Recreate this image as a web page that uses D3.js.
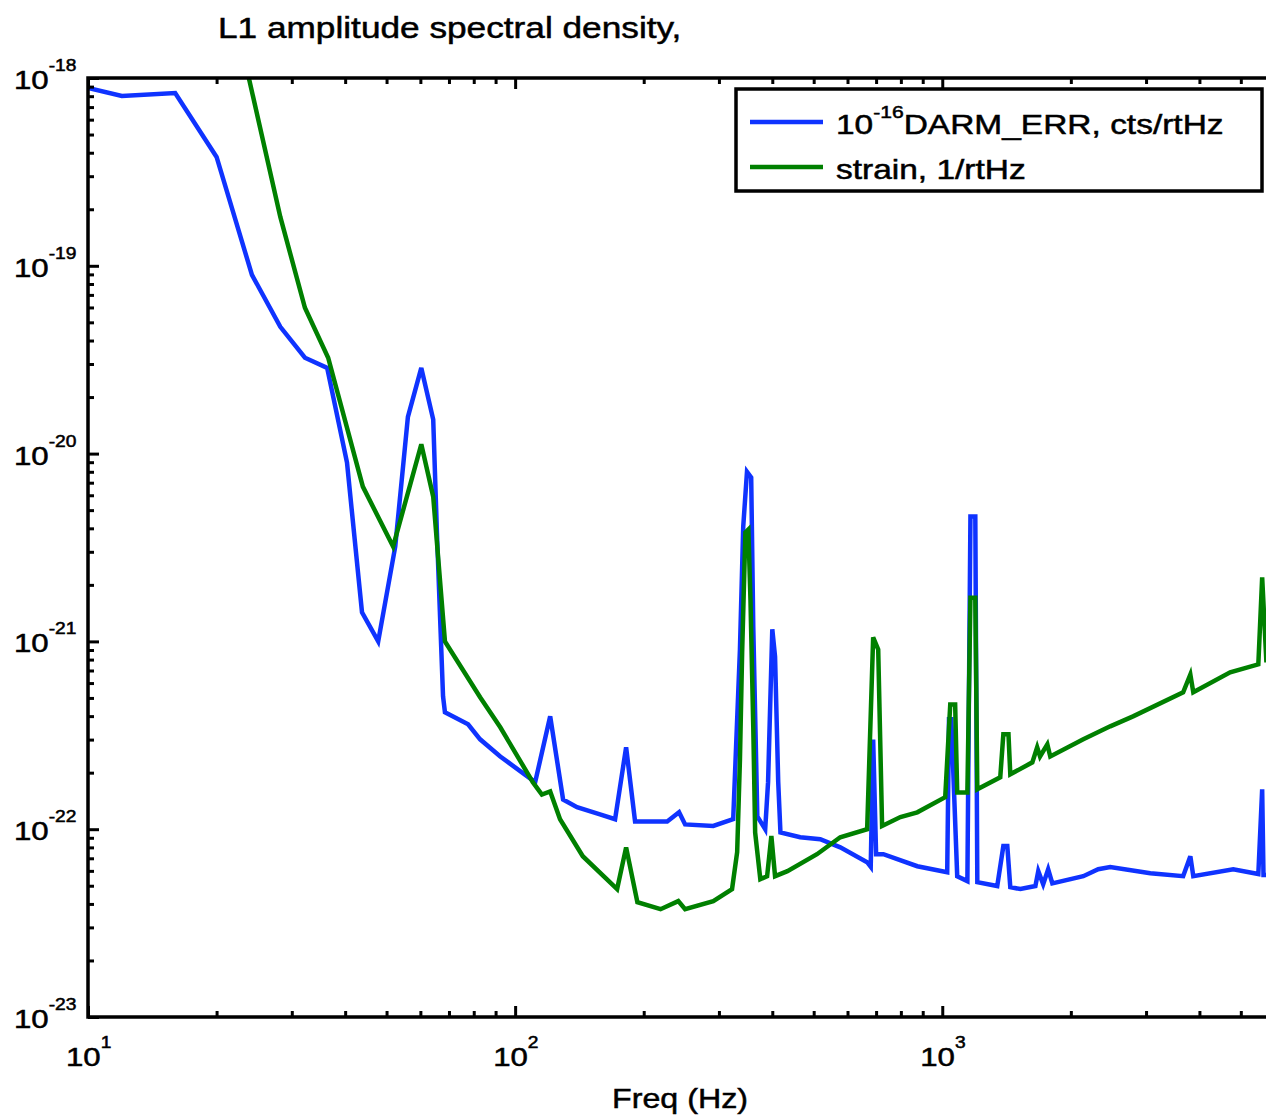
<!DOCTYPE html>
<html><head><meta charset="utf-8">
<script src="https://cdn.jsdelivr.net/npm/d3@7"></script>
<style>html,body{margin:0;padding:0;background:#fff;overflow:hidden}</style>
</head><body>
<svg id="chart" width="1266" height="1118"></svg>
<script>
// ---- data ----
const blueFreq = [10,12.0,16.0,20.0,24.2,28.2,32.2,36.3,40.4,43.8,47.8,52.4,56.1,60.3,64.3,65.6,67.8,68.5,77.6,82.8,92.3,111.4,120.8,129.5,139.6,158,171.4,181.9,190.9,227,242,250,291,324,336,342,349,357,361,369,385,391,400,406,413,418,465,518,577,667,680,689,700,728,874,1027,1037,1050,1084,1145,1164,1195,1208,1345,1390,1420,1443,1524,1652,1678,1723,1770,1810,2139,2318,2473,3070,3664,3809,3870,4800,5495,5610,5650,5740];
const blueVal = [8.85e-19,8.02e-19,8.32e-19,3.8e-19,8.95e-20,4.73e-20,3.24e-20,2.86e-20,8.95e-21,1.43e-21,1.0e-21,3.2e-21,1.57e-20,2.86e-20,1.52e-20,3.8e-21,5.1e-22,4.19e-22,3.62e-22,3.01e-22,2.44e-22,1.78e-22,3.99e-22,1.44e-22,1.31e-22,1.2e-22,1.13e-22,2.73e-22,1.10e-22,1.10e-22,1.23e-22,1.06e-22,1.04e-22,1.13e-22,9.06e-22,4.09e-21,8.0e-21,7.45e-21,1.2e-21,1.17e-22,1.0e-22,1.78e-22,1.16e-21,8.3e-22,1.78e-22,9.6e-23,9.06e-23,8.85e-23,8.0e-23,6.67e-23,6.3e-23,3.0e-22,7.36e-23,7.36e-23,6.35e-23,5.9e-23,3.85e-22,3.85e-22,5.62e-23,5.29e-23,4.62e-21,4.62e-21,5.22e-23,4.98e-23,8.13e-23,8.13e-23,4.91e-23,4.8e-23,4.98e-23,5.98e-23,5.09e-23,6.12e-23,5.15e-23,5.62e-23,6.12e-23,6.28e-23,5.83e-23,5.62e-23,7.18e-23,5.62e-23,6.12e-23,5.77e-23,1.63e-22,5.7e-23,5.7e-23];
const greenFreq = [23.8,28.2,32.2,36.5,44.0,51.8,60.3,64.3,68.5,82.8,92.3,110,115.5,120.8,127.4,144,173.3,181.9,193.3,219,241,250,291,322,331,336,340,346,351.6,355.6,361,364.7,375,389,398,406,434,509,577,667,689,708,723,798,874,1016,1044,1072,1084,1145,1164,1195,1208,1367,1390,1429,1443,1625,1668,1694,1762,1790,2139,2473,2797,3664,3809,3870,4721,5495,5610,5740];
const greenVal = [1.0e-18,1.82e-19,5.98e-20,3.24e-20,6.67e-21,3.2e-21,1.12e-20,5.9e-21,1.0e-21,5.04e-22,3.49e-22,1.78e-22,1.53e-22,1.59e-22,1.13e-22,7.18e-23,4.8e-23,8.0e-23,4.09e-23,3.75e-23,4.14e-23,3.75e-23,4.14e-23,4.8e-23,7.55e-23,2.35e-22,8.73e-22,3.8e-21,3.94e-21,1.67e-21,3.53e-22,9.6e-23,5.42e-23,5.62e-23,9.2e-23,5.62e-23,5.98e-23,7.36e-23,9.06e-23,1.0e-22,1.05e-21,9.06e-22,1.04e-22,1.16e-22,1.23e-22,1.48e-22,4.62e-22,4.62e-22,1.57e-22,1.57e-22,1.71e-21,1.71e-21,1.63e-22,1.89e-22,3.2e-22,3.2e-22,1.96e-22,2.27e-22,2.73e-22,2.44e-22,2.83e-22,2.44e-22,3.01e-22,3.53e-22,3.99e-22,5.36e-22,6.67e-22,5.36e-22,6.84e-22,7.55e-22,2.19e-21,7.73e-22];
const seriesNames = ["DARM_ERR, cts/rtHz", "strain, 1/rtHz"];
const xTickExps = [1,2,3];
const yTickExps = [-18,-19,-20,-21,-22,-23];
const titleText = "L1 amplitude spectral density,";
const xLabel = "Freq (Hz)";

// ---- layout ----
const svg = d3.select("#chart");
const mLeft = 88, mTop = 78, mBottom = 1017, mRight = 1328;
const SX = 1.2; // horizontal stretch of text
const FONT = "'Liberation Sans', Arial, Helvetica, sans-serif";
const x = d3.scaleLog().domain([10, 8000]).range([mLeft, mRight]);
const y = d3.scaleLog().domain([1e-23, 1e-18]).range([mBottom, mTop]);

svg.append("defs").append("clipPath").attr("id","clip")
  .append("rect").attr("x",mLeft).attr("y",mTop).attr("width",mRight-mLeft).attr("height",mBottom-mTop);

function stretchedText(px, py, size, anchor, sx){
  const g = svg.append("g").attr("transform",`translate(${px},${py}) scale(${sx||SX},1)`);
  return g.append("text").attr("font-family",FONT).attr("font-size",size).attr("text-anchor",anchor||"start")
    .attr("fill","#000").attr("stroke","#000").attr("stroke-width",0.5);
}

// lines
const line = d3.line().x(d=>x(d[0])).y(d=>y(d[1]));
const blue = blueFreq.map((f,i)=>[f, blueVal[i]]);
const green = greenFreq.map((f,i)=>[f, greenVal[i]]);
const plot = svg.append("g").attr("clip-path","url(#clip)");
plot.append("path").datum(blue).attr("d",line).attr("fill","none").attr("stroke","#0f33ff").attr("stroke-width",4.5).attr("stroke-linejoin","miter");
plot.append("path").datum(green).attr("d",line).attr("fill","none").attr("stroke","#008000").attr("stroke-width",4.5).attr("stroke-linejoin","miter");

// axes ticks
const xMinor = [];
for (let e=1;e<=3;e++) for (let k=2;k<=9;k++) xMinor.push(k*Math.pow(10,e));
const xMajor = xTickExps.map(e=>Math.pow(10,e));
const yMinor = [];
for (let e=-23;e<-18;e++) for (let k=2;k<=9;k++) yMinor.push(k*Math.pow(10,e));
const yMajor = yTickExps.map(e=>Math.pow(10,e));

const axBottom = d3.axisBottom(x).tickValues(xMajor).tickSize(-11).tickFormat("");
const axBottomMinor = d3.axisBottom(x).tickValues(xMinor).tickSize(-6).tickFormat("");
const axTop = d3.axisTop(x).tickValues(xMajor).tickSize(-11).tickFormat("");
const axTopMinor = d3.axisTop(x).tickValues(xMinor).tickSize(-6).tickFormat("");
const axLeft = d3.axisLeft(y).tickValues(yMajor).tickSize(-11).tickFormat("");
const axLeftMinor = d3.axisLeft(y).tickValues(yMinor).tickSize(-6).tickFormat("");
function styleAxis(g){ g.selectAll(".domain").remove(); g.selectAll("line").attr("stroke","#000").attr("stroke-width",3); }
svg.append("g").attr("transform",`translate(0,${mBottom})`).call(axBottom).call(styleAxis);
svg.append("g").attr("transform",`translate(0,${mBottom})`).call(axBottomMinor).call(styleAxis);
svg.append("g").attr("transform",`translate(0,${mTop})`).call(axTop).call(styleAxis);
svg.append("g").attr("transform",`translate(0,${mTop})`).call(axTopMinor).call(styleAxis);
svg.append("g").attr("transform",`translate(${mLeft},0)`).call(axLeft).call(styleAxis);
svg.append("g").attr("transform",`translate(${mLeft},0)`).call(axLeftMinor).call(styleAxis);

// frame
svg.append("rect").attr("x",mLeft).attr("y",mTop).attr("width",mRight-mLeft).attr("height",mBottom-mTop)
  .attr("fill","none").attr("stroke","#000").attr("stroke-width",3.5);

// y tick labels
yTickExps.forEach(e=>{
  const t = stretchedText(14, y(Math.pow(10,e))+11, 26, "start");
  t.append("tspan").text("10");
  t.append("tspan").attr("font-size",16).attr("dy",-18).text(String(e));
});
// x tick labels
xTickExps.forEach(e=>{
  const t = stretchedText(x(Math.pow(10,e))-22, 1066, 26, "start");
  t.append("tspan").text("10");
  t.append("tspan").attr("font-size",16).attr("dy",-18).text(String(e));
});

// title & axis label
stretchedText(218, 38, 29, "start", 1.215).text(titleText);
stretchedText(680, 1108, 28, "middle", 1.15).text(xLabel);

// legend
const lg = {x:736, y:89, w:526, h:102};
svg.append("rect").attr("x",lg.x).attr("y",lg.y).attr("width",lg.w).attr("height",lg.h)
  .attr("fill","#fff").attr("stroke","#000").attr("stroke-width",3.5);
svg.append("line").attr("x1",750).attr("x2",823).attr("y1",122).attr("y2",122).attr("stroke","#0f33ff").attr("stroke-width",4.5);
svg.append("line").attr("x1",750).attr("x2",823).attr("y1",167).attr("y2",167).attr("stroke","#008000").attr("stroke-width",4.5);
const l1 = stretchedText(836, 134, 27, "start", 1.24);
l1.append("tspan").text("10");
l1.append("tspan").attr("font-size",17).attr("dy",-16).text("-16");
l1.append("tspan").attr("dy",16).text(seriesNames[0]);
stretchedText(836, 179, 27, "start", 1.24).text(seriesNames[1]);
</script>
</body></html>
